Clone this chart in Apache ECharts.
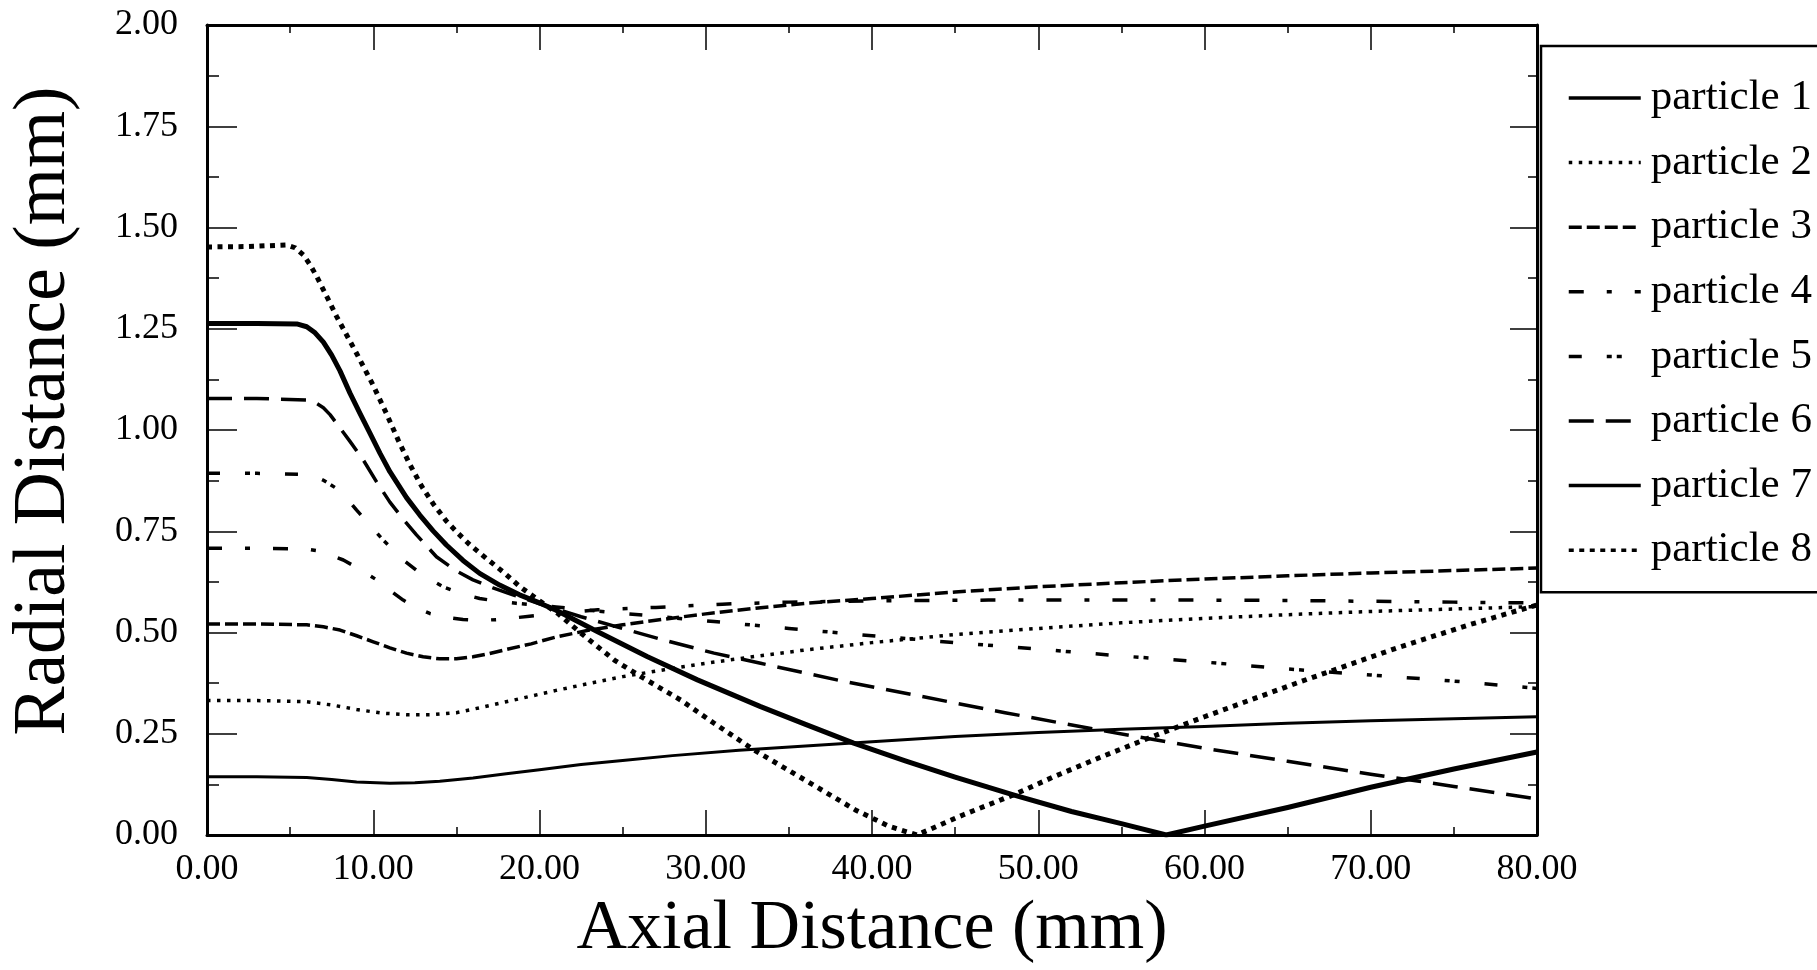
<!DOCTYPE html>
<html>
<head>
<meta charset="utf-8">
<script src="https://cdn.jsdelivr.net/npm/echarts@6/dist/echarts.min.js"></script>
<style>html,body{margin:0;padding:0;background:#fff;}#c{width:1817px;height:970px;}</style>
</head>
<body>
<div id="c"></div>
<script>
// ---- data (x = axial mm, y = radial mm) ----
const xTicks = [0, 10, 20, 30, 40, 50, 60, 70, 80];
const yTicks = [0, 0.25, 0.5, 0.75, 1.0, 1.25, 1.5, 1.75, 2.0];
const seriesNames = ['particle 1','particle 2','particle 3','particle 4','particle 5','particle 6','particle 7','particle 8'];

const particle1 = [[0,0.144],[3,0.144],[6,0.142],[7.5,0.137],[9,0.131],[11,0.128],[12.5,0.129],[14,0.133],[16,0.141],[18,0.151],[20,0.161],[22.5,0.174],[25,0.184],[28,0.196],[32,0.209],[36,0.220],[40,0.230],[45,0.243],[50,0.253],[55,0.261],[60,0.268],[65,0.276],[70,0.282],[75,0.287],[80,0.292]];
const particle2 = [[0,0.332],[3,0.332],[6,0.329],[7.5,0.321],[9,0.310],[10.5,0.301],[12,0.297],[13.5,0.297],[15,0.302],[16.5,0.315],[18,0.329],[19.5,0.343],[21,0.357],[22.5,0.370],[25,0.391],[27.5,0.408],[30,0.424],[33,0.441],[36,0.457],[40,0.475],[45,0.495],[50,0.510],[55,0.524],[60,0.535],[65,0.544],[70,0.552],[75,0.558],[80,0.564]];
const particle3 = [[0,0.521],[3,0.521],[6,0.519],[7,0.514],[8,0.506],[9,0.492],[10,0.477],[11,0.462],[12,0.449],[13,0.440],[14,0.435],[15,0.435],[16,0.440],[17,0.448],[18,0.458],[19.5,0.472],[21,0.489],[23,0.506],[25,0.519],[27.5,0.533],[30,0.546],[33,0.560],[36,0.572],[40,0.584],[45,0.600],[50,0.613],[55,0.623],[60,0.632],[65,0.640],[70,0.647],[75,0.653],[80,0.659]];
const particle4 = [[0,0.708],[3,0.708],[6,0.706],[6.6,0.702],[7.2,0.694],[7.7,0.687],[8.2,0.679],[9.2,0.656],[10.2,0.630],[11,0.604],[11.8,0.580],[12.6,0.561],[13.4,0.547],[14.4,0.537],[15.4,0.532],[16.5,0.530],[17.5,0.532],[19.4,0.540],[21.5,0.549],[23.5,0.556],[27,0.562],[31,0.570],[35,0.575],[40,0.578],[47,0.580],[55,0.580],[60,0.580],[65,0.579],[70,0.577],[75,0.575],[80,0.573]];
const particle5 = [[0,0.893],[3,0.893],[6,0.890],[6.5,0.886],[7,0.876],[7.4,0.866],[7.7,0.858],[8.4,0.832],[9,0.802],[9.8,0.765],[10.6,0.728],[11.8,0.679],[13,0.641],[14.2,0.613],[15.3,0.596],[16.4,0.584],[17.5,0.577],[18.6,0.572],[21,0.563],[24,0.551],[27,0.540],[30.5,0.527],[35,0.510],[40,0.492],[45,0.475],[50,0.459],[55,0.442],[60,0.427],[65,0.410],[70,0.395],[75,0.380],[80,0.362]];
const particle6 = [[0,1.078],[3,1.078],[6,1.074],[6.5,1.068],[7,1.055],[7.4,1.038],[7.8,1.016],[8.6,0.972],[9.4,0.926],[10.2,0.872],[11,0.822],[11.8,0.780],[12.6,0.741],[13.8,0.687],[15,0.652],[16,0.630],[17.2,0.610],[18.4,0.593],[20,0.571],[22.5,0.539],[25,0.510],[27.5,0.481],[30.5,0.449],[33.3,0.424],[38,0.382],[43,0.342],[48,0.302],[53,0.264],[60,0.214],[65,0.182],[70,0.150],[75,0.120],[80,0.089]];
const particle7 = [[0,1.263],[3,1.263],[5.4,1.262],[6.0,1.255],[6.5,1.240],[7.0,1.217],[7.5,1.185],[8.0,1.146],[8.6,1.091],[9.2,1.041],[9.8,0.992],[10.4,0.943],[11,0.897],[12,0.833],[12.8,0.790],[13.6,0.751],[14.4,0.716],[15.4,0.678],[16.4,0.646],[17.6,0.617],[18.8,0.593],[20,0.573],[21,0.555],[23.5,0.502],[26.5,0.440],[29.5,0.383],[33.3,0.317],[36,0.273],[38.9,0.227],[42,0.183],[45,0.143],[48.5,0.099],[52,0.058],[55,0.028],[57.7,0],[60,0.022],[65,0.068],[70,0.118],[75,0.163],[80,0.205]];
const particle8 = [[0,1.452],[2.5,1.453],[4.8,1.457],[5.3,1.450],[5.8,1.432],[6.2,1.408],[6.6,1.379],[7.2,1.330],[7.8,1.280],[9,1.189],[10,1.110],[10.8,1.040],[11.5,0.975],[12.2,0.915],[12.9,0.862],[13.6,0.818],[14.4,0.775],[15.1,0.745],[15.8,0.717],[16.8,0.683],[17.8,0.650],[18.8,0.614],[20,0.578],[21.1,0.547],[22.5,0.498],[24.5,0.432],[26.1,0.391],[28.5,0.333],[30.5,0.276],[32.9,0.210],[36,0.135],[39,0.062],[41,0.022],[42.7,0],[45.5,0.050],[48.5,0.099],[51,0.145],[53.8,0.193],[57,0.245],[60,0.292],[65.8,0.379],[71.8,0.465],[76,0.520],[80,0.568]];

const seriesData = [particle1, particle2, particle3, particle4, particle5, particle6, particle7, particle8];

// ---- styles ----
const FONT = '"Liberation Serif", "Times New Roman", Times, serif';
const lineStyles = [
  {width: 3,   type: 'solid'},
  {width: 3.5, type: [3.5, 6.5]},
  {width: 3.5, type: [13, 5]},
  {width: 3.5, type: [15, 23, 5, 23]},
  {width: 3.5, type: [13, 25, 5, 5, 5, 25]},
  {width: 3.5, type: [25, 12]},
  {width: 5,   type: 'solid'},
  {width: 5,   type: [5, 5.5]}
];

const chart = echarts.init(document.getElementById('c'), null, {renderer: 'canvas'});

const axisLine = {show: true, onZero: false, lineStyle: {color: '#000', width: 3}};
const tickStyle = {color: '#000', width: 1.5};

const option = {
  backgroundColor: '#fff',
  animation: false,
  grid: {left: 207, right: 280, top: 25, bottom: 135, containLabel: false},
  legend: {
    orient: 'vertical',
    left: 1541,
    top: 46,
    padding: [30, 60, 20, 26],
    borderColor: '#000',
    borderWidth: 2.5,
    itemWidth: 72,
    itemHeight: 14,
    itemGap: 20.6,
    data: seriesNames,
    itemStyle: {color: 'rgba(0,0,0,0)', borderColor: 'rgba(0,0,0,0)', borderWidth: 0, opacity: 0},
    lineStyle: {width: 3.5, color: '#000', type: 'inherit'},
    textStyle: {fontFamily: FONT, fontSize: 43, lineHeight: 44, color: '#000', padding: [0, 0, 0, 5]}
  },
  xAxis: [
    {
      type: 'value', min: xTicks[0], max: xTicks[xTicks.length - 1], interval: 10, position: 'bottom',
      axisLine: axisLine,
      axisTick: {show: true, inside: true, length: 25, lineStyle: tickStyle},
      minorTick: {show: true, splitNumber: 2, length: 8, lineStyle: tickStyle},
      splitLine: {show: false}, minorSplitLine: {show: false},
      axisLabel: {formatter: v => v.toFixed(2), fontFamily: FONT, fontSize: 36, color: '#000', margin: 17},
      name: 'Axial Distance (mm)', nameLocation: 'middle', nameGap: 60,
      nameTextStyle: {fontFamily: FONT, fontSize: 70, color: '#000'}
    },
    {
      type: 'value', min: xTicks[0], max: xTicks[xTicks.length - 1], interval: 10, position: 'top',
      axisLine: axisLine,
      axisTick: {show: true, inside: true, length: 25, lineStyle: tickStyle},
      minorTick: {show: true, splitNumber: 2, length: 8, lineStyle: tickStyle},
      splitLine: {show: false}, minorSplitLine: {show: false},
      axisLabel: {show: false}
    }
  ],
  yAxis: [
    {
      type: 'value', min: yTicks[0], max: yTicks[yTicks.length - 1], interval: 0.25, position: 'left',
      axisLine: axisLine,
      axisTick: {show: true, inside: true, length: 30, lineStyle: tickStyle},
      minorTick: {show: true, splitNumber: 2, length: 12, lineStyle: tickStyle},
      splitLine: {show: false}, minorSplitLine: {show: false},
      axisLabel: {formatter: v => v.toFixed(2), fontFamily: FONT, fontSize: 36, color: '#000', margin: 29},
      name: 'Radial Distance (mm)', nameLocation: 'middle', nameGap: 125,
      nameTextStyle: {fontFamily: FONT, fontSize: 73.5, color: '#000', padding: [0, 0, 0, 38]}
    },
    {
      type: 'value', min: yTicks[0], max: yTicks[yTicks.length - 1], interval: 0.25, position: 'right',
      axisLine: axisLine,
      axisTick: {show: true, inside: true, length: 27, lineStyle: tickStyle},
      minorTick: {show: true, splitNumber: 2, length: 9, lineStyle: tickStyle},
      splitLine: {show: false}, minorSplitLine: {show: false},
      axisLabel: {show: false}
    }
  ],
  series: seriesNames.map((name, i) => ({
    name: name,
    type: 'line',
    xAxisIndex: 0,
    yAxisIndex: 0,
    data: seriesData[i],
    showSymbol: false,
    symbol: 'none',
    smooth: false,
    clip: true,
    lineStyle: {color: '#000', width: lineStyles[i].width, type: lineStyles[i].type, cap: 'butt', join: 'round'},
    itemStyle: {color: '#000'},
    emphasis: {disabled: true}
  }))
};

chart.setOption(option);
</script>
</body>
</html>
